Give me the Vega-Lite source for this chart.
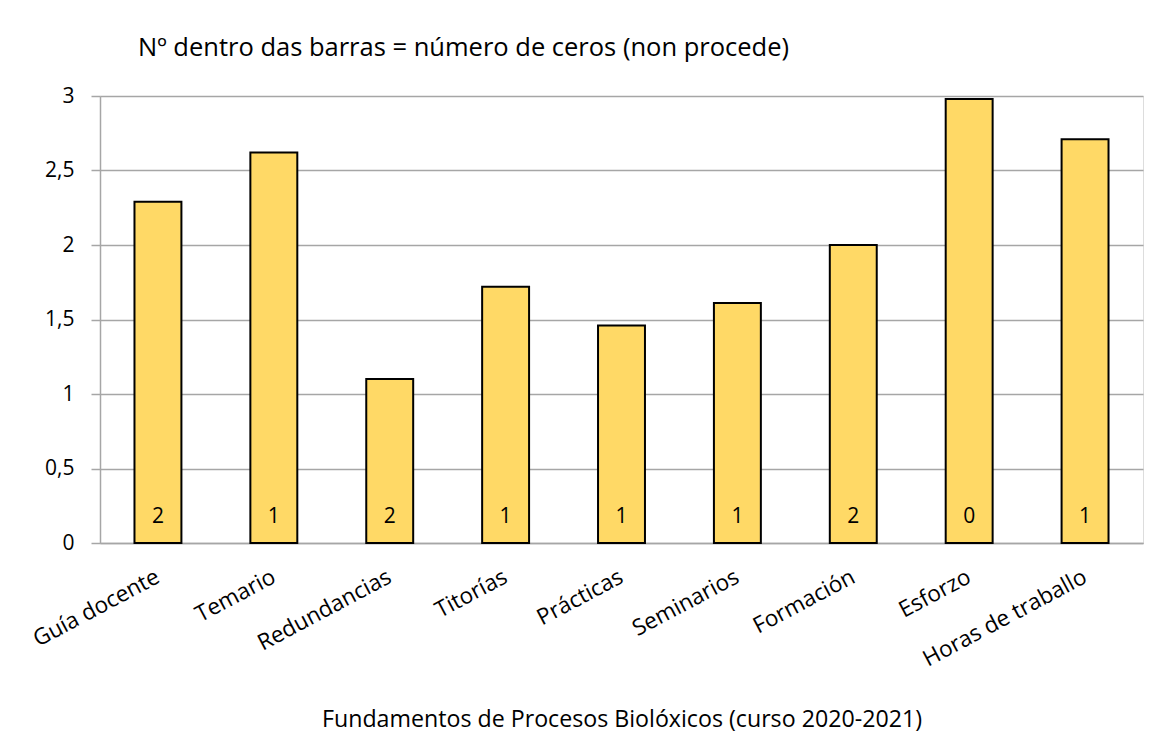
{
  "$schema": "https://vega.github.io/schema/vega-lite/v6.json",
  "autosize": {"type": "none"},
  "padding": {"left": 100, "top": 96, "right": 27, "bottom": 202},
  "width": 1043,
  "height": 447,
  "background": "white",
  "title": {
    "text": "Nº dentro das barras = número de ceros (non procede)",
    "anchor": "start",
    "frame": "group",
    "dx": 38,
    "offset": 24,
    "font": "Open Sans",
    "fontSize": 25.5,
    "fontWeight": "normal",
    "color": "#000000"
  },
  "data": {
    "values": [
      {"cat": "Guía docente", "value": 2.29, "zeros": 2},
      {"cat": "Temario", "value": 2.62, "zeros": 1},
      {"cat": "Redundancias", "value": 1.1, "zeros": 2},
      {"cat": "Titorías", "value": 1.72, "zeros": 1},
      {"cat": "Prácticas", "value": 1.46, "zeros": 1},
      {"cat": "Seminarios", "value": 1.61, "zeros": 1},
      {"cat": "Formación", "value": 2.0, "zeros": 2},
      {"cat": "Esforzo", "value": 2.98, "zeros": 0},
      {"cat": "Horas de traballo", "value": 2.71, "zeros": 1}
    ]
  },
  "encoding": {
    "x": {
      "field": "cat",
      "type": "nominal",
      "sort": null,
      "scale": {"paddingInner": 0.595, "paddingOuter": 0.2975},
      "axis": {
        "title": "Fundamentos de Procesos Biolóxicos (curso 2020-2021)",
        "titleFont": "Open Sans",
        "titleFontSize": 23.2,
        "titleFontWeight": "normal",
        "titleColor": "#000000",
        "titleY": 183,
        "titleBaseline": "alphabetic",
        "labelAngle": -28,
        "labelAlign": "right",
        "labelBaseline": "middle",
        "labelFont": "Open Sans",
        "labelFontSize": 22.5,
        "labelColor": "#000000",
        "labelPadding": 32,
        "labelLimit": 400,
        "labelOverlap": false,
        "ticks": false,
        "domain": true,
        "domainColor": "#a6a6a6",
        "domainWidth": 1.5,
        "grid": false
      }
    }
  },
  "layer": [
    {
      "mark": {"type": "bar", "fill": "#ffd966", "stroke": "#000000", "strokeWidth": 2},
      "encoding": {
        "y": {
          "field": "value",
          "type": "quantitative",
          "scale": {"domain": [0, 3], "nice": false},
          "axis": {
            "title": null,
            "values": [0, 0.5, 1, 1.5, 2, 2.5, 3],
            "labelExpr": "replace(toString(datum.value), '.', ',')",
            "labelFont": "Open Sans",
            "labelFontSize": 21,
            "labelColor": "#000000",
            "labelPadding": 17,
            "tickSize": 9,
            "tickColor": "#a6a6a6",
            "tickWidth": 1.5,
            "domainColor": "#a6a6a6",
            "domainWidth": 1.5,
            "gridColor": "#a6a6a6",
            "gridWidth": 1.5
          }
        }
      }
    },
    {
      "mark": {"type": "text", "font": "Open Sans", "fontSize": 21, "color": "#000000", "baseline": "alphabetic", "dy": -20},
      "encoding": {
        "y": {"datum": 0, "type": "quantitative"},
        "text": {"field": "zeros", "type": "quantitative"}
      }
    }
  ]
}
